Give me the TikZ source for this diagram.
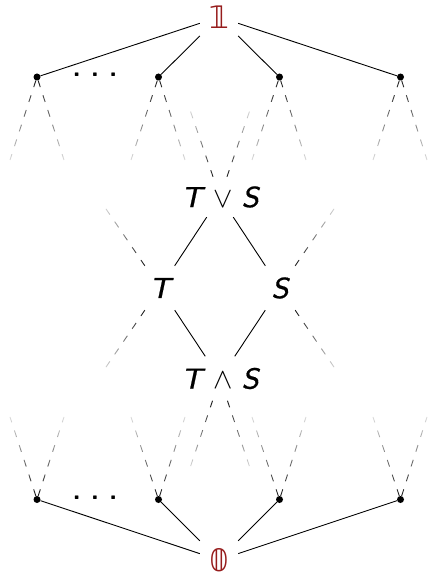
\RequirePackage{fix-cm}
\documentclass[tikz,border=0pt]{standalone}
\usepackage{fontspec}
\newfontfamily\symfont{DejaVu Sans}
\newfontfamily\tsans{lmsans8-oblique.otf}[FakeBold=0.6]
\usetikzlibrary{fadings}
\tikzfading[name=stubfadedown, top color=transparent!0, bottom color=transparent!85]
\tikzfading[name=stubfadeup, top color=transparent!85, bottom color=transparent!0]
\definecolor{topred}{RGB}{150,28,28}
\newcommand\opsym[1]{{\upshape\fontsize{29}{30}\selectfont$#1$}}
\begin{document}
\begin{tikzpicture}[x=1pt,y=-1pt,
  every node/.style={inner sep=0pt},
  elem/.style={font=\fontsize{29}{32}\selectfont\tsans, minimum width=32pt, minimum height=43pt},
  bound/.style={text=topred, font=\fontsize{31}{32}\selectfont\symfont, minimum width=38pt, minimum height=40pt},
  latdot/.style={circle, fill=black, minimum size=7pt, inner sep=0pt},
  ellip/.style={font=\fontsize{27}{30}\selectfont\sffamily\bfseries, anchor=base},
  solidln/.style={line width=0.9pt},
  stubdown/.style={line width=0.9pt, draw=black!90, dash pattern=on 7pt off 8.5pt, path fading=stubfadedown},
  stubup/.style={line width=0.9pt, draw=black!90, dash pattern=on 7pt off 8.5pt, path fading=stubfadeup}
]
\useasboundingbox (0,0) rectangle (429,572);

% top and bottom
\node[bound] (one) at (219,17) {𝟙};
\node[bound] (zero) at (219,560) {𝟘};

% upper atoms
\node[latdot] (u1) at (37,77) {};
\node[latdot] (u2) at (158.5,77) {};
\node[latdot] (u3) at (279.5,77) {};
\node[latdot] (u4) at (400.5,77) {};
\node[ellip] (ue) at (95,76.5) {.\ .\ .};

% lower atoms
\node[latdot] (l1) at (37,499.5) {};
\node[latdot] (l2) at (158.5,499.5) {};
\node[latdot] (l3) at (279.5,499.5) {};
\node[latdot] (l4) at (400.5,499.5) {};
\node[ellip] (le) at (95,499) {.\ .\ .};

% middle diamond
\node[elem, minimum height=40pt] (tvs) at (220,197) {T\hspace{11pt}\opsym{\vee}\hspace{9pt}S};
\node[elem, minimum height=44pt] (t) at (160,288) {T};
\node[elem, minimum height=44pt] (s) at (280,288) {S};
\node[elem, minimum height=44pt] (tas) at (220,378.5) {T\hspace{11pt}\opsym{\wedge}\hspace{9pt}S};

% free ends of the faded stubs
\coordinate (u1a) at (10,160);  \coordinate (u1b) at (64,160);
\coordinate (u2a) at (131,160); \coordinate (u2b) at (185,160);
\coordinate (u3a) at (252,160); \coordinate (u3b) at (306,160);
\coordinate (u4a) at (373,160); \coordinate (u4b) at (427,160);
\coordinate (l1a) at (10,417);  \coordinate (l1b) at (64,417);
\coordinate (l2a) at (131,417); \coordinate (l2b) at (185,417);
\coordinate (l3a) at (252,417); \coordinate (l3b) at (306,417);
\coordinate (l4a) at (373,417); \coordinate (l4b) at (427,417);
\coordinate (tvsa) at (190,110); \coordinate (tvsb) at (250,110);
\coordinate (tasa) at (190,468); \coordinate (tasb) at (250,468);
\coordinate (ta) at (104,206); \coordinate (tb) at (104,370);
\coordinate (sa) at (336,206); \coordinate (sb) at (336,370);

% solid edges
\foreach \n in {u1,u2,u3,u4} \draw[solidln] (one) -- (\n);
\foreach \n in {l1,l2,l3,l4} \draw[solidln] (zero) -- (\n);
\draw[solidln] (tvs) -- (t);
\draw[solidln] (tvs) -- (s);
\draw[solidln] (t) -- (tas);
\draw[solidln] (s) -- (tas);

% faded stubs
\foreach \n in {u1,u2,u3,u4} {
  \draw[stubdown] (\n) -- (\n a);
  \draw[stubdown] (\n) -- (\n b);
}
\foreach \n in {l1,l2,l3,l4} {
  \draw[stubup] (\n) -- (\n a);
  \draw[stubup] (\n) -- (\n b);
}
\draw[stubup] (tvs) -- (tvsa);
\draw[stubup] (tvs) -- (tvsb);
\draw[stubdown] (tas) -- (tasa);
\draw[stubdown] (tas) -- (tasb);
\draw[stubup] (t) -- (ta);
\draw[stubdown] (t) -- (tb);
\draw[stubup] (s) -- (sa);
\draw[stubdown] (s) -- (sb);
\end{tikzpicture}
\end{document}
